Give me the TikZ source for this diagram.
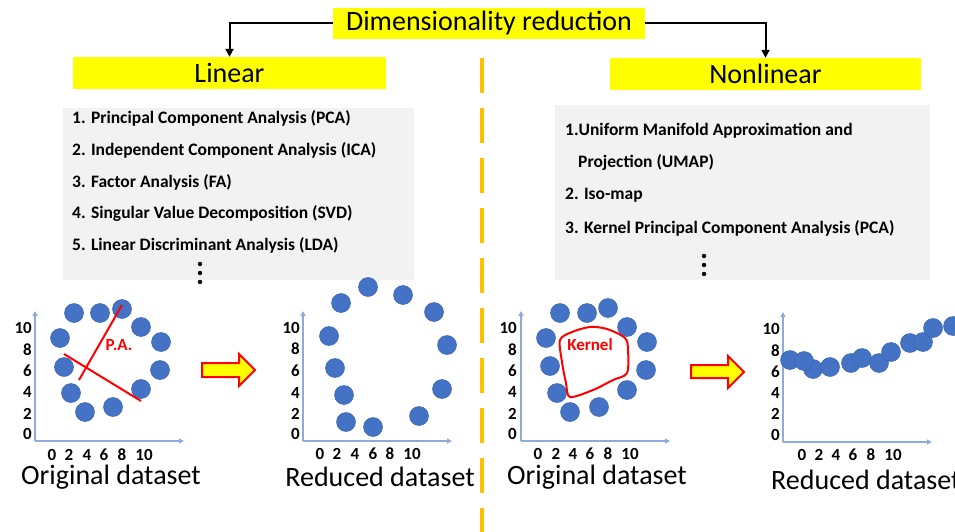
\documentclass[tikz,border=0pt]{standalone}
\usepackage{fontspec}
\setmainfont{Carlito}
\usetikzlibrary{arrows.meta}
\definecolor{hl}{HTML}{FFFF00}
\definecolor{panel}{HTML}{F2F2F2}
\definecolor{dot}{HTML}{4472C4}
\definecolor{dotedge}{HTML}{3B64AE}
\definecolor{axisblue}{HTML}{8FAADC}
\definecolor{divider}{HTML}{FFC000}
\tikzset{
  headbox/.style={fill=hl, inner sep=0pt, font=\fontsize{28}{32}\selectfont},
  linkarrow/.style={line width=2pt, -{Triangle[width=8pt,length=8pt]}},
  listitem/.style={anchor=west, inner sep=0pt, font=\bfseries\fontsize{17.5}{20}\selectfont},
  tick/.style={inner sep=0pt, font=\bfseries\fontsize{17}{20}\selectfont},
  caption/.style={inner sep=0pt, font=\fontsize{28}{32}\selectfont},
  axisline/.style={axisblue, line width=1.3pt, -{Triangle[width=5pt,length=5pt]}},
  pt/.style={fill=dot, draw=dotedge, line width=0.5pt},
  redmark/.style={red, line width=2pt},
  redlabel/.style={red, inner sep=0pt, font=\bfseries\fontsize{17}{20}\selectfont},
  blockarrow/.style={fill=hl, draw=red, line width=2pt, line join=miter},
  vdots/.style={fill=black}
}
\begin{document}
\begin{tikzpicture}[x=1pt, y=-1pt]
\useasboundingbox (0,0) rectangle (955,532);

% headings
\node[headbox, minimum width=312pt, minimum height=31pt] (T) at (489,23.5) {Dimensionality reduction};
\node[headbox, minimum width=313pt, minimum height=32pt] (L) at (229.5,73) {Linear};
\node[headbox, minimum width=311pt, minimum height=32pt] (N) at (765.5,74) {Nonlinear};
\draw[linkarrow] (T.west) -| (L.north);
\draw[linkarrow] (T.east) -| (N.north);

% dashed divider
\draw[divider, line width=4pt, dash pattern=on 35pt off 15pt] (482,58) -- (482,532);

% method lists
\fill[panel] (63,108) rectangle (414,280);
\node[listitem] (l1) at (72,118) {1. Principal Component Analysis (PCA)};
\node[listitem] (l2) at (72,150) {2. Independent Component Analysis (ICA)};
\node[listitem] (l3) at (72,182) {3. Factor Analysis (FA)};
\node[listitem] (l4) at (72,213) {4. Singular Value Decomposition (SVD)};
\node[listitem] (l5) at (72,245) {5. Linear Discriminant Analysis (LDA)};
\foreach \y in {264,273,282} \fill[vdots] (200,\y) circle[radius=2.2pt];

\fill[panel] (555,105) rectangle (930,280);
\node[listitem] (n1) at (565,131) {1.Uniform Manifold Approximation and};
\node[listitem] (n1b) at (578,162) {Projection (UMAP)};
\node[listitem] (n2) at (565,195) {2. Iso-map};
\node[listitem] (n3) at (565,228) {3. Kernel Principal Component Analysis (PCA)};
\foreach \y in {256,265,274} \fill[vdots] (704,\y) circle[radius=2.2pt];

% ---------- plot 1: original data, linear ----------
\coordinate (o1) at (35,441);
\draw[axisline] (o1) -- (35,311);
\draw[axisline] (o1) -- (184,441);
\foreach \v/\y in {10/328,8/350,6/371,4/392,2/414,0/434}
  \node[tick, anchor=east] at (32,\y) {\v};
\foreach \v/\x in {0/52,2/69,4/87,6/104,8/122,10/144}
  \node[tick] at (\x,455) {\v};
\node[caption] (c1) at (111,477) {Original dataset};
\foreach \x/\y in {74/313,100/313,122/309,141/327,161/342,160/370,141/389,113/407,85/412,71/393,64/367,60/338}
  \draw[pt] (\x,\y) circle[radius=9.5pt];
\draw[redmark] (122,305) -- (79,380);
\draw[redmark] (64,354) -- (141,401);
\node[redlabel] (pa) at (119,345) {P.A.};

% arrow 1
\draw[blockarrow] (202,363) -- (239,363) -- (239,354) -- (255,370) -- (239,386) -- (239,377) -- (202,377) -- cycle;

% ---------- plot 2: reduced data, linear ----------
\coordinate (o2) at (303,441);
\draw[axisline] (o2) -- (303,311);
\draw[axisline] (o2) -- (452,441);
\foreach \v/\y in {10/328,8/349,6/371,4/393,2/414,0/434}
  \node[tick, anchor=east] at (300,\y) {\v};
\foreach \v/\x in {0/320,2/337,4/355,6/373,8/390,10/412}
  \node[tick] at (\x,454) {\v};
\node[caption] (c2) at (380,477) {Reduced dataset};
\foreach \x/\y in {368/287,403/295,434/312,447/345,442/389,419/416,373/427,346/422,344/395,335/368,329/336,341/303}
  \draw[pt] (\x,\y) circle[radius=9.5pt];

% ---------- plot 3: original data, nonlinear ----------
\coordinate (o3) at (521,441);
\draw[axisline] (o3) -- (521,311);
\draw[axisline] (o3) -- (670,441);
\foreach \v/\y in {10/328,8/350,6/371,4/392,2/414,0/434}
  \node[tick, anchor=east] at (517,\y) {\v};
\foreach \v/\x in {0/538,2/556,4/573,6/590,8/608,10/630}
  \node[tick] at (\x,454) {\v};
\node[caption] (c3) at (597,477) {Original dataset};
\foreach \x/\y in {560/313,587/313,608/308,627/327,647/342,646/370,627/390,599/407,570/412,557/393,550/366,546/338}
  \draw[pt] (\x,\y) circle[radius=9.5pt];
\draw[redmark] plot[smooth cycle, tension=0.5] coordinates {(560,340) (572,332) (590,327) (607,329) (625,338) (628,350) (627,373) (613,380) (593,390) (570,397) (566,383) (562,362)};
\node[redlabel] (kn) at (590,345) {Kernel};

% arrow 2
\draw[blockarrow] (691,365) -- (728,365) -- (728,356) -- (744,372) -- (728,388) -- (728,378) -- (691,378) -- cycle;

% ---------- plot 4: reduced data, nonlinear ----------
\coordinate (o4) at (783,442);
\draw[axisline] (o4) -- (783,312);
\draw[axisline] (o4) -- (932,442);
\foreach \v/\y in {10/329,8/351,6/372,4/393,2/414,0/435}
  \node[tick, anchor=east] at (780,\y) {\v};
\foreach \v/\x in {0/802,2/819,4/836,6/853,8/871,10/893}
  \node[tick] at (\x,455) {\v};
\node[caption, anchor=west] (c4) at (771,480) {Reduced dataset};
\foreach \x/\y in {790/360,813/369,804/361,830/367,851/363,862/358,879/363,891/352,910/343,923/342,933/328,953/326}
  \draw[pt] (\x,\y) circle[radius=9.5pt];
\end{tikzpicture}
\end{document}
